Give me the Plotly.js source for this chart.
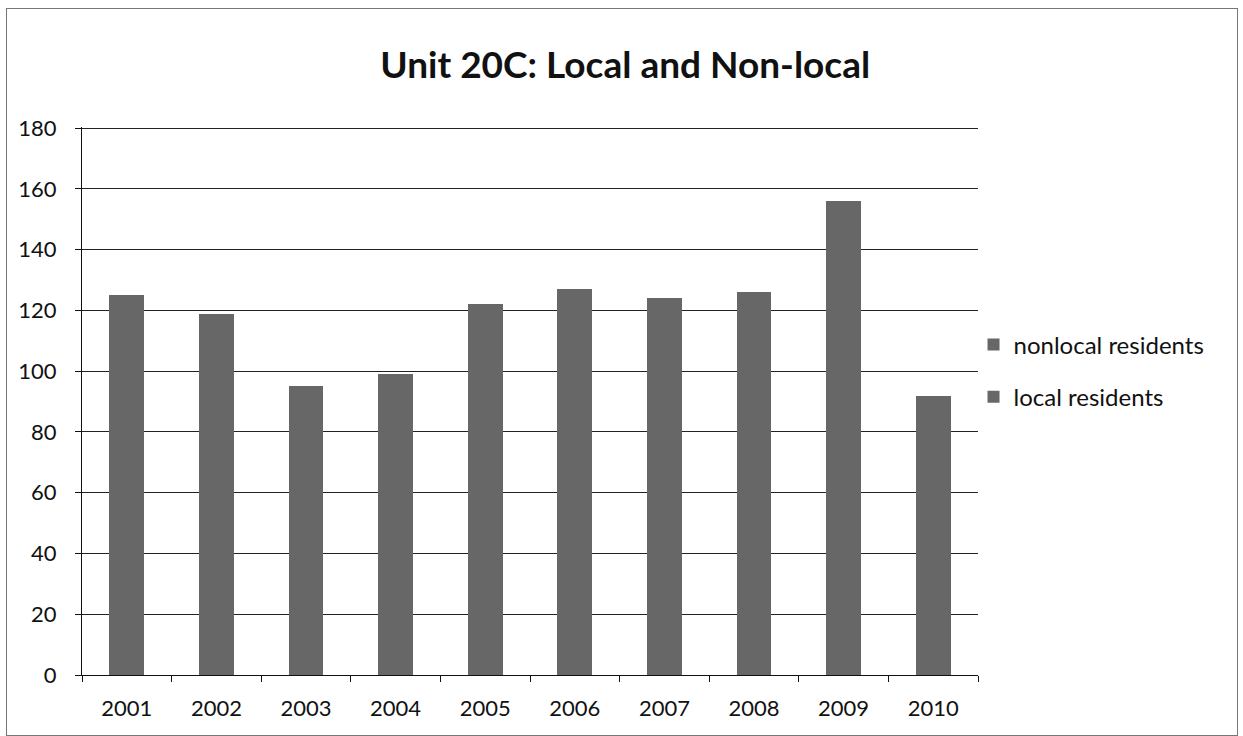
<!DOCTYPE html>
<html>
<head>
<meta charset="utf-8">
<script src="https://cdn.plot.ly/plotly-3.0.1.min.js"></script>
<style>
html,body{margin:0;padding:0;background:#fff;}
#frame{position:absolute;left:6px;top:8px;width:1230px;height:726px;border:1px solid #777;}
#chart{position:absolute;left:0;top:0;width:1243px;height:736px;}
</style>
</head>
<body>
<div id="frame"></div>
<div id="chart"></div>
<script>
const years = ['2001','2002','2003','2004','2005','2006','2007','2008','2009','2010'];
const localResidents = [70, 62, 50, 55, 68, 72, 70, 74, 90, 52];
const nonlocalResidents = [55, 57, 45, 44, 54, 55, 54, 52, 66, 40];
const yTicks = [0,20,40,60,80,100,120,140,160,180];

const barColor = '#676767';
const traces = [
  {type:'bar', name:'local residents', legendgroup:'b', legendrank:2, x:years, y:localResidents, marker:{color:barColor}},
  {type:'bar', name:'nonlocal residents', legendgroup:'a', legendrank:1, x:years, y:nonlocalResidents, marker:{color:barColor}}
];
const layout = {
  width:1243, height:736,
  paper_bgcolor:'rgba(0,0,0,0)', plot_bgcolor:'rgba(0,0,0,0)',
  margin:{l:82, r:265, t:127, b:61},
  barmode:'stack', bargap:0.61,
  font:{family:'Lato, "Open Sans", sans-serif', color:'#111', size:22},
  title:{text:'<b>Unit 20C: Local and Non-local</b>', x:0.503, xref:'container', y:0.912, yref:'container', xanchor:'center', yanchor:'middle',
         font:{size:37, family:'Lato, "Open Sans", sans-serif', color:'#111'}},
  xaxis:{type:'category', showline:true, linecolor:'#111', linewidth:1, ticks:'outside', tickson:'boundaries', ticklen:6, tickcolor:'#111',
         showgrid:false, tickfont:{size:22}, ticklabelstandoff:14},
  yaxis:{range:[0,180.4], tickvals:yTicks, showline:true, linecolor:'#111', linewidth:1, ticks:'outside', ticklen:6, tickcolor:'#111',
         showgrid:true, gridcolor:'#222', gridwidth:1, zeroline:false, tickfont:{size:22}, ticklabelstandoff:14},
  legend:{x:0.995, xanchor:'left', y:0.555, yanchor:'middle', traceorder:'grouped', tracegroupgap:18,
          font:{size:24}, itemwidth:30}
};
Plotly.newPlot('chart', traces, layout, {displayModeBar:false, staticPlot:true});
</script>
</body>
</html>
